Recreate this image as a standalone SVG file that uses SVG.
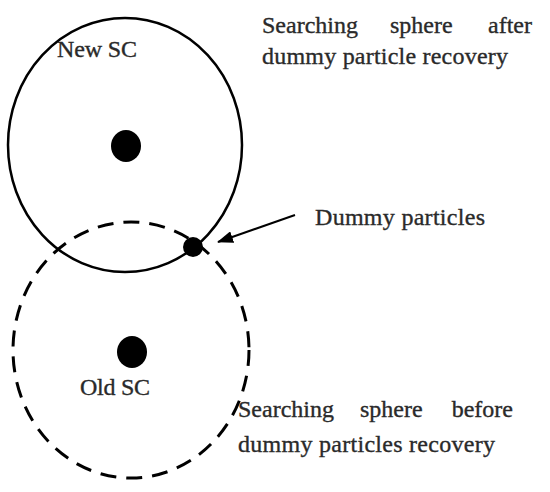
<svg xmlns="http://www.w3.org/2000/svg" width="550" height="492" viewBox="0 0 550 492">
<style>
.lbl{font-family:"Liberation Serif","DejaVu Serif",serif;font-size:24px;fill:#2a2a2a;stroke:#2a2a2a;stroke-width:0.35}
.dot{fill:#000}
</style>
<defs>
<marker id="ah" markerWidth="16" markerHeight="12" refX="15" refY="6" orient="auto" markerUnits="userSpaceOnUse">
<path d="M0,0 L16,6 L0,12 Z" fill="#000"/>
</marker>
</defs>
<rect width="550" height="492" fill="#fff"/>
<g id="old-sc">
<ellipse cx="131" cy="350" rx="118" ry="128" fill="none" stroke="#000" stroke-width="3" stroke-dasharray="16 10"/>
<ellipse class="dot" cx="132" cy="352" rx="15" ry="16"/>
<text class="lbl" x="80" y="395" textLength="70">Old SC</text>
</g>
<g id="new-sc">
<ellipse cx="125" cy="145" rx="117" ry="127" fill="none" stroke="#000" stroke-width="2.5"/>
<ellipse class="dot" cx="126" cy="146" rx="15" ry="16"/>
<text class="lbl" x="57" y="57" textLength="80">New SC</text>
</g>
<g id="dummy-particle">
<circle class="dot" cx="193" cy="247" r="10"/>
</g>
<g id="label-after">
<text class="lbl" x="262" y="33">Searching</text>
<text class="lbl" x="390" y="33">sphere</text>
<text class="lbl" x="532" y="33" text-anchor="end">after</text>
<text class="lbl" x="262" y="64" textLength="246">dummy particle recovery</text>
</g>
<g id="label-dummy">
<text class="lbl" x="315" y="225" textLength="170">Dummy particles</text>
</g>
<g id="label-before">
<text class="lbl" x="238" y="417">Searching</text>
<text class="lbl" x="360" y="417">sphere</text>
<text class="lbl" x="513" y="417" text-anchor="end">before</text>
<text class="lbl" x="238" y="452" textLength="257">dummy particles recovery</text>
</g>
<g id="connectors">
<line x1="295" y1="215" x2="218" y2="242" stroke="#000" stroke-width="2" marker-end="url(#ah)"/>
</g>
</svg>
